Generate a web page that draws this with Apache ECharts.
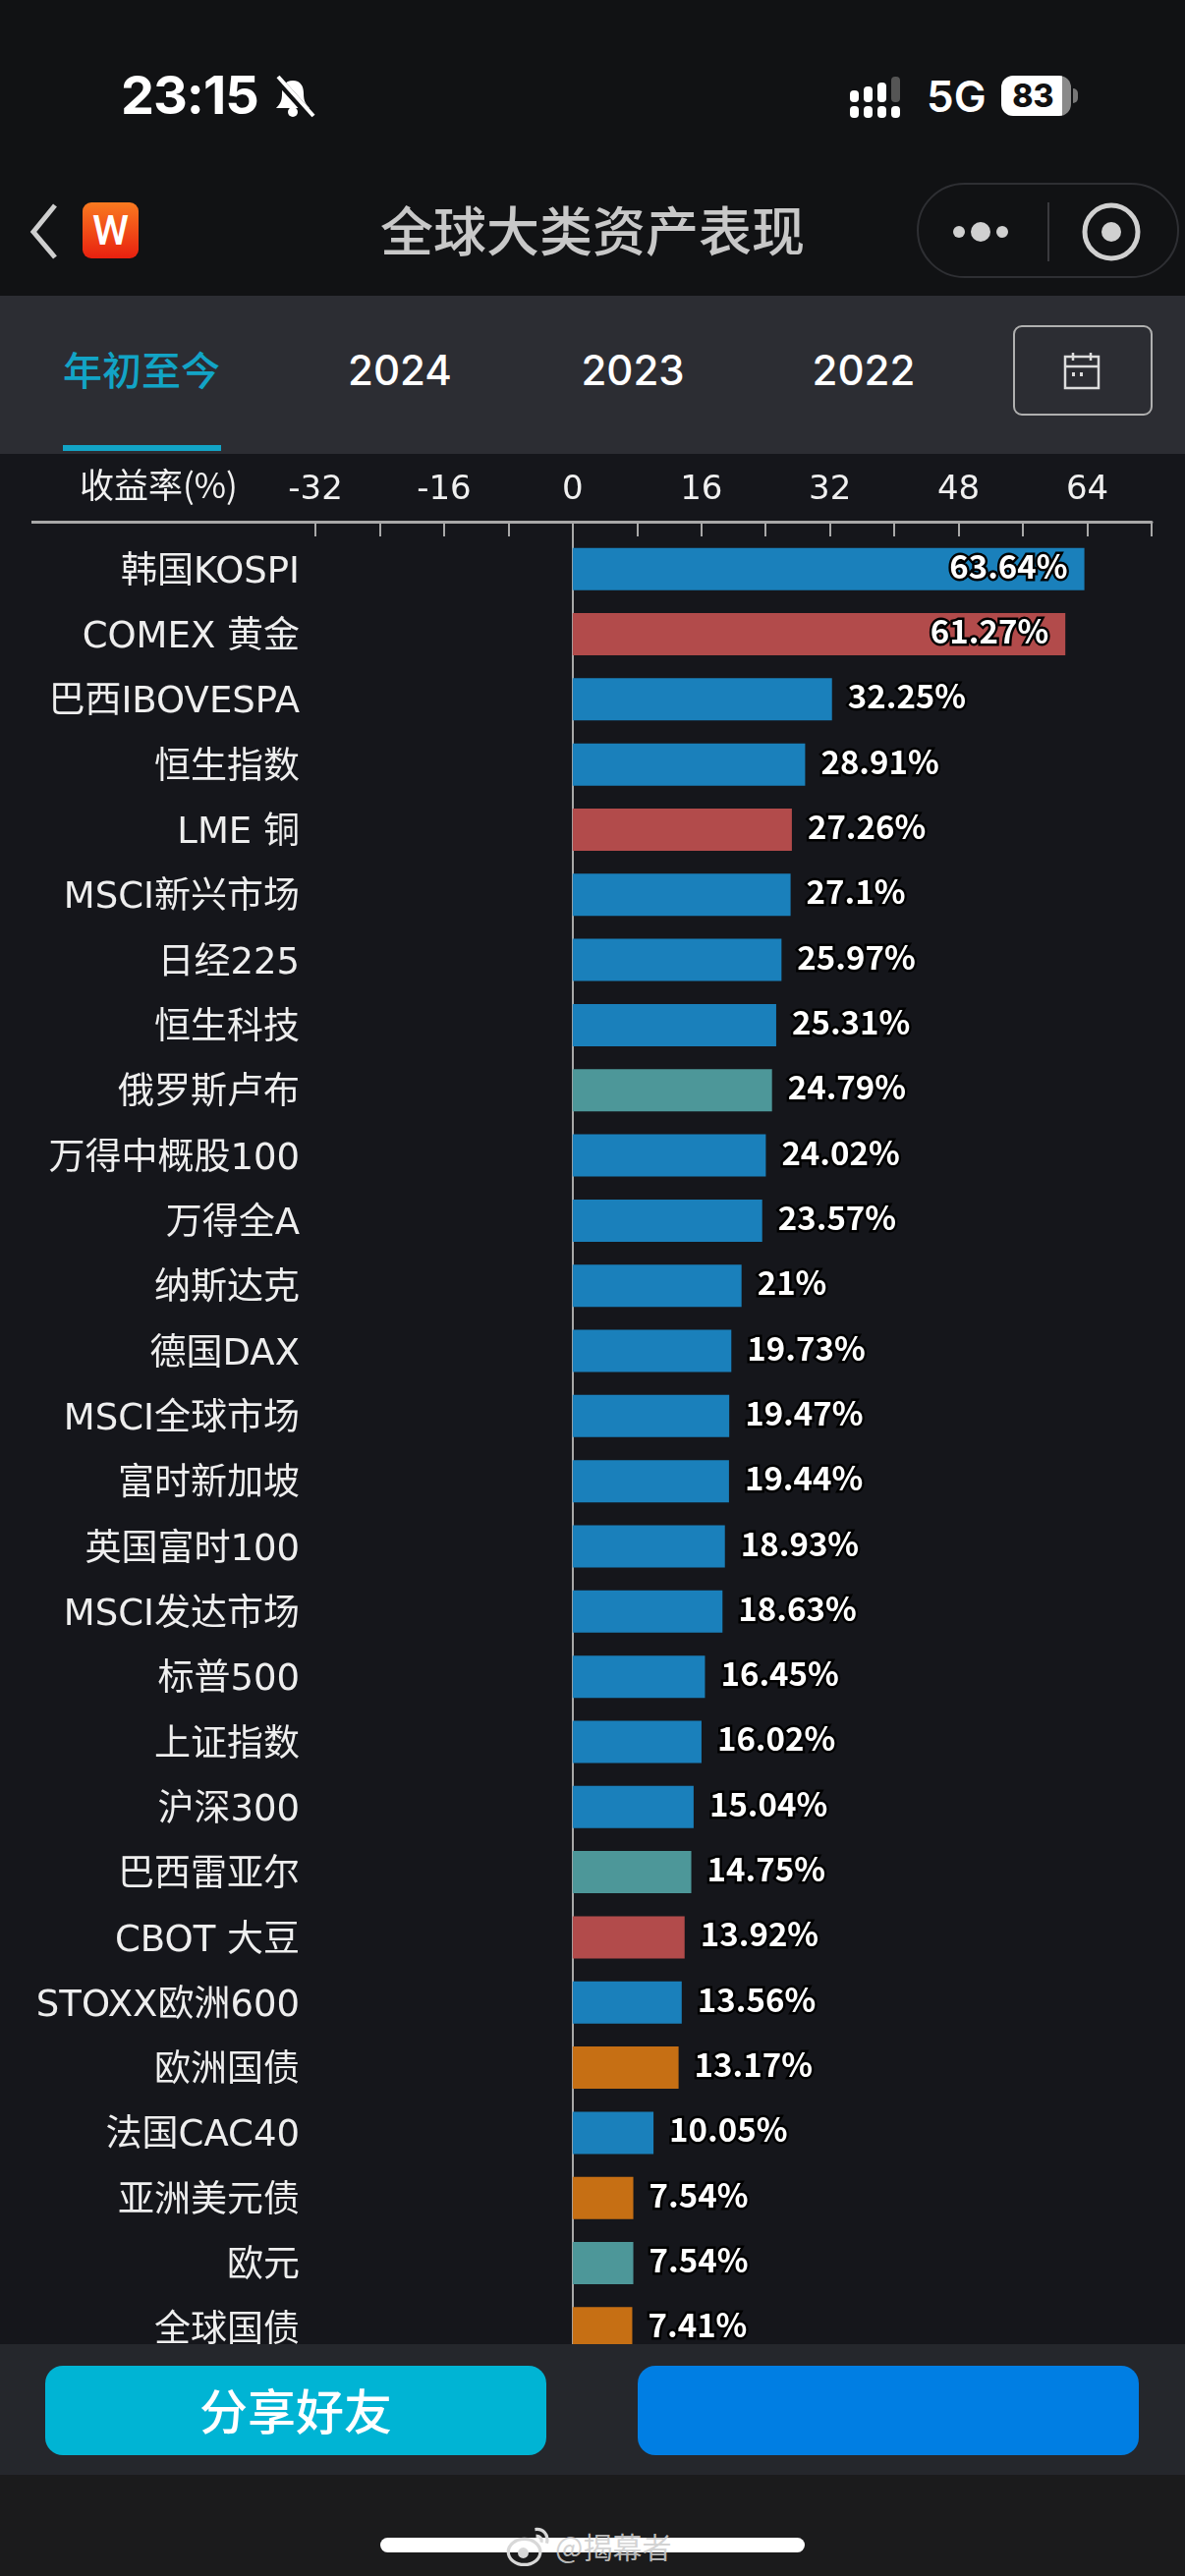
<!DOCTYPE html>
<html>
<head>
<meta charset="utf-8">
<title>全球大类资产表现</title>
<script src="https://cdn.jsdelivr.net/npm/echarts@6/dist/echarts.min.js"></script>
<style>
html, body { margin: 0; padding: 0; background: #111214; }
body { width: 1206px; height: 2622px; position: relative; overflow: hidden; font-family: "Noto Sans CJK SC", sans-serif; color: #fff; }
.abs { position: absolute; }
#chartBg { left: 0; top: 462px; width: 1206px; height: 1924px; background: #15161b; }
#main { left: 0; top: 0; width: 1206px; height: 2622px; }
#tabs { left: 0; top: 301px; width: 1206px; height: 161px; background: #2c2d33; }
.tab { top: 344px; font: 500 42px/66px Inter, sans-serif; text-align: center; width: 200px; }
#footer { left: 0; top: 2386px; width: 1206px; height: 133px; background: #25272c; z-index: 3; }
#footBottom { left: 0; top: 2519px; width: 1206px; height: 103px; background: #1b1b1c; z-index: 3; }
.btn { top: 2408px; height: 91px; width: 510px; border-radius: 18px; z-index: 4; text-align: center; font-size: 49px; line-height: 87px; font-weight: 500; }
</style>
</head>
<body>
<div class="abs" id="chartBg"></div>
<div class="abs" id="tabs"></div>

<!-- 状态栏 -->
<div class="abs" style="left:123px;top:64px;font:700 54px/66px Inter,sans-serif;letter-spacing:-1px;">23:15</div>
<svg class="abs" style="left:274px;top:76px" width="50" height="46" viewBox="0 0 50 46">
  <path d="M24 6c-8 0-11 6-11 13 0 8-2 11-6 15h34c-4-4-6-7-6-15 0-7-3-13-11-13z" fill="#fff"/>
  <circle cx="24" cy="38" r="5" fill="#fff"/>
  <path d="M7 3l36 40" stroke="#111214" stroke-width="8"/>
  <path d="M9 2l36 40" stroke="#fff" stroke-width="4"/>
</svg>
<svg class="abs" style="left:862px;top:76px" width="64" height="46" viewBox="0 0 64 46">
  <g fill="#fff">
    <rect x="3" y="16" width="9" height="12" rx="4"/><rect x="17" y="12" width="9" height="16" rx="4"/>
    <rect x="31" y="8" width="9" height="20" rx="4"/>
    <rect x="3" y="32" width="9" height="12" rx="4"/><rect x="17" y="32" width="9" height="12" rx="4"/>
    <rect x="31" y="32" width="9" height="12" rx="4"/><rect x="45" y="32" width="9" height="12" rx="4"/>
  </g>
  <rect x="45" y="2" width="9" height="26" rx="4" fill="#555"/>
</svg>
<div class="abs" style="left:943px;top:68px;font:600 44px/60px Inter,sans-serif;">5G</div>
<div class="abs" style="left:1019px;top:77px;width:71px;height:41px;border-radius:12px;background:linear-gradient(90deg,#fff 88%,#8a8a8a 88%);color:#111;font:800 32px/41px Inter,sans-serif;text-align:center;padding-right:6px;box-sizing:border-box;">83</div>
<div class="abs" style="left:1092px;top:90px;width:5px;height:15px;border-radius:0 5px 5px 0;background:#777;"></div>

<!-- 导航 -->
<svg class="abs" style="left:26px;top:205px" width="40" height="60" viewBox="0 0 40 60">
  <path d="M30 8L8 35l22 26" transform="translate(0,-4)" fill="none" stroke="#cfcfcf" stroke-width="5"/>
</svg>
<div class="abs" style="left:84px;top:206px;width:57px;height:57px;border-radius:9px;background:linear-gradient(180deg,#f97a20,#e8200f);font:500 42px/57px Roboto,sans-serif;text-align:center;">W</div>
<div class="abs" style="left:300px;top:196px;width:606px;text-align:center;font-size:54px;font-weight:500;line-height:74px;color:#c8c8c8;">全球大类资产表现</div>
<div class="abs" style="left:933px;top:186px;width:267px;height:97px;border:2px solid #2e2f33;border-radius:50px;box-sizing:border-box;"></div>
<svg class="abs" style="left:960px;top:200px" width="220" height="72" viewBox="0 0 220 72">
  <circle cx="16" cy="36" r="6" fill="#d0d0d0"/><circle cx="38" cy="36" r="10" fill="#d0d0d0"/><circle cx="60" cy="36" r="6" fill="#d0d0d0"/>
  <line x1="107" y1="6" x2="107" y2="66" stroke="#3a3a3e" stroke-width="2"/>
  <circle cx="171" cy="36" r="27" fill="none" stroke="#d0d0d0" stroke-width="5"/>
  <circle cx="171" cy="36" r="10" fill="#d0d0d0"/>
</svg>

<!-- 时间选项 -->
<div class="abs tab" style="left:44px;top:342px;color:#12a4c6;font:500 40px/66px 'Noto Sans CJK SC',sans-serif;">年初至今</div>
<div class="abs tab" style="left:307px;">2024</div>
<div class="abs tab" style="left:544px;">2023</div>
<div class="abs tab" style="left:779px;">2022</div>
<div class="abs" style="left:64px;top:453px;width:161px;height:6px;background:#12a4c6;"></div>
<div class="abs" style="left:1031px;top:331px;width:142px;height:92px;border:2px solid #b0b0b0;border-radius:9px;box-sizing:border-box;"></div>
<svg class="abs" style="left:1080px;top:358px" width="42" height="40" viewBox="0 0 42 40">
  <rect x="4" y="5" width="34" height="32" fill="none" stroke="#ddd" stroke-width="2.5"/>
  <line x1="4" y1="15" x2="38" y2="15" stroke="#ddd" stroke-width="2.5"/>
  <line x1="12" y1="1" x2="12" y2="9" stroke="#ddd" stroke-width="2.5"/><line x1="30" y1="1" x2="30" y2="9" stroke="#ddd" stroke-width="2.5"/>
  <rect x="11" y="21" width="3" height="4" fill="#ddd"/><rect x="19" y="21" width="3" height="4" fill="#ddd"/>
</svg>

<!-- 表头横线左段 -->
<div class="abs" style="left:32px;top:529.5px;width:290px;height:3px;background:#a8a8a8;"></div>

<div class="abs" id="main"></div>

<!-- 底部 -->
<div class="abs" id="footer"></div>
<div class="abs" id="footBottom"></div>
<div class="abs btn" style="left:46px;background:#00b4d4;">分享好友</div>
<div class="abs btn" style="left:649px;background:#007ee3;"></div>
<div class="abs" style="left:387px;top:2583px;width:432px;height:15px;border-radius:8px;background:#fff;z-index:5;"></div>
<svg class="abs" style="left:514px;top:2570px;z-index:6" width="50" height="44" viewBox="0 0 46 40">
  <ellipse cx="18" cy="25" rx="15" ry="12" fill="none" stroke="#d8d8d8" stroke-width="3"/>
  <circle cx="17" cy="26" r="5" fill="#d8d8d8"/>
  <path d="M28 4c8-1 13 5 11 13M29 10c4 0 6 3 5 6" fill="none" stroke="#d8d8d8" stroke-width="3"/>
</svg>
<div class="abs" style="left:565px;top:2570px;z-index:6;font-size:30px;line-height:42px;color:rgba(205,205,205,0.9);">@揭幕者</div>

<script>
var categories = ['韩国KOSPI', 'COMEX 黄金', '巴西IBOVESPA', '恒生指数', 'LME 铜', 'MSCI新兴市场', '日经225', '恒生科技', '俄罗斯卢布', '万得中概股100', '万得全A', '纳斯达克', '德国DAX', 'MSCI全球市场', '富时新加坡', '英国富时100', 'MSCI发达市场', '标普500', '上证指数', '沪深300', '巴西雷亚尔', 'CBOT 大豆', 'STOXX欧洲600', '欧洲国债', '法国CAC40', '亚洲美元债', '欧元', '全球国债'];
var values = [63.64, 61.27, 32.25, 28.91, 27.26, 27.1, 25.97, 25.31, 24.79, 24.02, 23.57, 21, 19.73, 19.47, 19.44, 18.93, 18.63, 16.45, 16.02, 15.04, 14.75, 13.92, 13.56, 13.17, 10.05, 7.54, 7.54, 7.41];
var assetTypes = ['stock', 'commodity', 'stock', 'stock', 'commodity', 'stock', 'stock', 'stock', 'fx', 'stock', 'stock', 'stock', 'stock', 'stock', 'stock', 'stock', 'stock', 'stock', 'stock', 'stock', 'fx', 'commodity', 'stock', 'bond', 'stock', 'bond', 'fx', 'bond'];
var typeColors = { stock: '#1a80bb', commodity: '#b24b4b', fx: '#4d9799', bond: '#c66f14' };

var fontName = '"Noto Sans CJK SC"';
var latinFont = '"DejaVu Sans", "Noto Sans CJK SC"';
var myChart = echarts.init(document.getElementById('main'), null, { renderer: 'canvas' });

var seriesData = values.map(function (v, i) {
    return {
        value: v,
        itemStyle: { color: typeColors[assetTypes[i]] },
        // 长条的数字放到条内
        label: { position: v > 50 ? 'insideRight' : 'right', distance: v > 50 ? 17 : 16 }
    };
});

var option = {
    animation: false,
    backgroundColor: 'transparent',
    // 轴名称放在刻度左边同一行
    title: {
        text: '收益率(%)',
        left: 81,
        top: 476,
        padding: 0,
        textStyle: { color: '#f0f0f0', fontSize: 35, fontWeight: 'normal', fontFamily: fontName }
    },
    grid: { left: 321, top: 546, width: 851, height: 1857, containLabel: false },
    xAxis: {
        type: 'value',
        position: 'top',
        offset: 15,
        min: -32,
        max: 72,
        interval: 8,
        axisLine: { show: true, onZero: false, lineStyle: { color: '#a8a8a8', width: 3 } },
        axisTick: { show: true, inside: true, length: 15, lineStyle: { color: '#a8a8a8', width: 2 } },
        axisLabel: {
            color: '#f0f0f0',
            fontSize: 34,
            fontFamily: latinFont,
            margin: 15,
            formatter: function (v) { return v % 16 === 0 ? String(v) : ''; }
        },
        splitLine: { show: false }
    },
    yAxis: {
        type: 'category',
        inverse: true,
        data: categories,
        axisLine: { show: false, onZero: false },
        axisTick: { show: false },
        axisLabel: { color: '#eeeeee', fontSize: 37, fontFamily: latinFont, margin: 16, verticalAlign: 'top', lineHeight: 8 }
    },
    series: [{
        type: 'bar',
        barWidth: 43,
        z: 3,
        data: seriesData,
        label: {
            show: true,
            color: '#ffffff',
            fontSize: 33,
            fontWeight: 600,
            fontFamily: fontName,
            offset: [0, -3],
            textBorderColor: '#000000',
            textBorderWidth: 5,
            formatter: function (p) { return p.value + '%'; }
        },
        markLine: {
            silent: true,
            symbol: 'none',
            z: 1,
            label: { show: false },
            lineStyle: { color: '#a8a8a8', width: 2, type: 'solid' },
            data: [{ xAxis: 0 }]
        }
    }]
};

myChart.setOption(option);
</script>
</body>
</html>
